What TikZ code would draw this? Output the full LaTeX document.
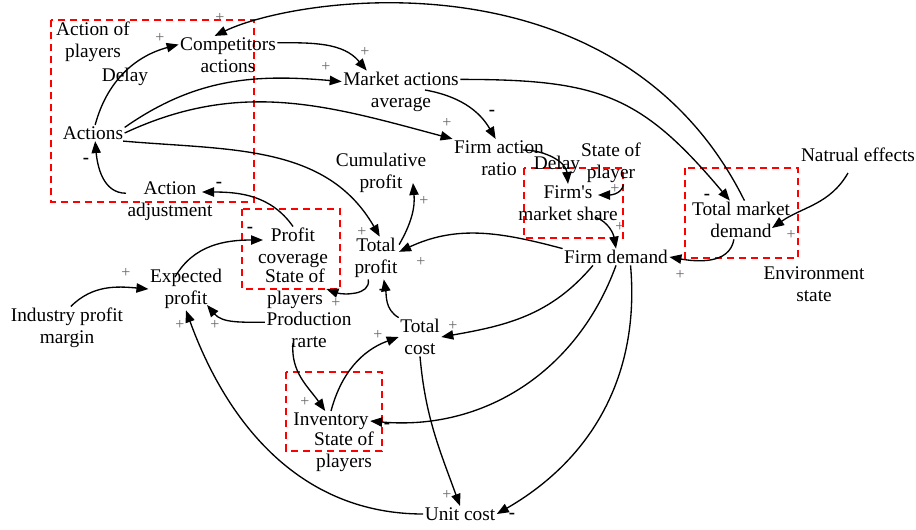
\documentclass[tikz,border=0pt]{standalone}
\usepackage{fontspec}
\setmainfont{Liberation Serif}
\usetikzlibrary{arrows.meta}
\newcommand\cldfont{\fontsize{14.5}{16.5}\selectfont}

\begin{document}
\begin{tikzpicture}[x=0.75pt,y=0.75pt,var/.style={align=center,inner sep=1pt,font=\cldfont},lnk/.style={-{Triangle[length=9pt,width=7pt]},line width=1pt},grp/.style={draw=red,line width=1.5pt,dash pattern=on 5.5pt off 3.5pt},plussign/.style={inner sep=0pt,text=black!60,font=\fontsize{12}{12}\selectfont},minussign/.style={inner sep=0pt,font=\fontsize{14}{14}\selectfont\bfseries}]
\useasboundingbox (0,0) rectangle (916,-529);
% player groups
\draw[grp] (51,-20) rectangle (254,-202);
\draw[grp] (242,-209) rectangle (340,-289);
\draw[grp] (524,-168) rectangle (623,-238);
\draw[grp] (685,-168) rectangle (798,-258);
\draw[grp] (286,-372) rectangle (382,-451);
% variables
\node[var] (aop) at (93,-42) {Action of\\players};
\node[var] (comp) at (228,-55) {Competitors\\actions};
\node[var] (dly1) at (125,-77) {Delay};
\node[var] (act) at (93,-133) {Actions};
\node[var] (aadj) at (170,-201) {Action\\adjustment};
\node[var] (maa) at (401,-92) {Market actions\\average};
\node[var] (far) at (499,-158) {Firm action\\ratio};
\node[var] (cum) at (381,-173) {Cumulative\\profit};
\node[var] (dly2) at (557,-165) {Delay};
\node[var] (sop) at (611,-163) {State of\\player};
\node[var] (fms) at (568,-203) {Firm\textquotesingle s\\market share};
\node[var] (tmd) at (741,-220) {Total market\\demand};
\node[var] (nat) at (858,-155) {Natrual effects};
\node[var] (env) at (814,-284) {Environment\\state};
\node[var] (fd) at (616,-257) {Firm demand};
\node[var] (pcov) at (293,-248) {Profit\\coverage};
\node[var] (sop2) at (295,-289) {State of\\players};
\node[var] (prod) at (309,-330) {Production\\rarte};
\node[var] (tp) at (376,-258) {Total\\profit};
\node[var] (ep) at (186,-289) {Expected\\profit};
\node[var] (ipm) at (67,-328) {Industry profit\\margin};
\node[var] (tc) at (420,-337) {Total\\cost};
\node[var] (inv) at (331,-421) {Inventory};
\node[var] (sop3) at (344,-452) {State of\\players};
\node[var] (uc) at (460,-514) {Unit cost};
% links
\draw[lnk] (act.75) to[out=75,in=195] (comp.168);
\draw[lnk] (tmd.80) .. controls (620,50) and (300,5) .. (comp.125);
\draw[lnk] (comp.14) to[out=0,in=130] (maa.148);
\draw[lnk] (act.10) to[out=35,in=175] (maa.170);
\draw[lnk] (act.east) to[out=25,in=165] (far.north west);
\draw[lnk] (act.-15) to[out=-5,in=120] (tp.80);
\draw[lnk] ([shift={(24,2)}]maa.center) to[out=-10,in=120] (far.100);
\draw[lnk] (maa.12) to[out=0,in=130,looseness=1.2] (tmd.120);
\draw[lnk] ([shift={(24,8)}]far.center) to[out=0,in=95] (fms.north);
\draw[lnk] (sop.-60) to[out=-100,in=0] ([shift={(30,8)}]fms.center);
\draw[lnk] ([shift={(27,-14)}]fms.center) to[out=-20,in=100] (fd.north);
\draw[lnk] (tmd.-110) to[out=-100,in=-10] (fd.east);
\draw[lnk] ([shift={(-10,-18)}]nat.center) to[out=-120,in=35] ([shift={(31,-8)}]tmd.center);
\draw[lnk] (fd.north west) to[out=165,in=25] (tp.15);
\draw[lnk] (aadj.170) to[out=180,in=-85] (act.-75);
\draw[lnk] (pcov.north) to[out=125,in=0] ([shift={(32,9)}]aadj.center);
\draw[lnk] ([shift={(-11,12)}]ep.center) to[out=60,in=180] ([shift={(-30,8)}]pcov.center);
\draw[lnk] (ipm.80) to[out=45,in=175] (ep.west);
\draw[lnk] (prod.170) to[out=180,in=-50] ([shift={(21,-16)}]ep.center);
\draw[lnk] (tp.30) to[out=60,in=-85] ([shift={(32,-10)}]cum.center);
\draw[lnk] (tp.-110) to[out=-80,in=-20] (sop2.east);
\draw[lnk] (tc.north west) to[out=150,in=-80] (tp.-70);
\draw[lnk] (fd.-160) to[out=-130,in=10] (tc.east);
\draw[lnk] (inv.north) to[out=75,in=200] (tc.west);
\draw[lnk] ([shift={(-16,-13)}]prod.center) to[out=-95,in=125] (inv.120);
\draw[lnk] (fd.south) to[out=-110,in=-5] (inv.east);
\draw[lnk] (tc.south) to[out=-85,in=110] (uc.north);
\draw[lnk] (fd.-30) to[out=-85,in=30] (uc.east);
\draw[lnk] (uc.west) to[out=180,in=-70] (ep.south);
% polarities
\foreach [count=\i] \px/\py in {160/-38,220/-18,365/-52,326/-67,447/-123,424/-201,362/-232,421/-262,615/-189,620/-227,680/-275,791/-235,126/-273,180/-325,215/-325,336/-303,378/-335,453/-326,305/-402,447/-495}
  \node[plussign] (plus\i) at (\px,\py) {+};
\foreach [count=\i] \px/\py in {86/-161,219/-185,250/-230,492/-113,707/-197,382/-292,387/-426,512/-516}
  \node[minussign] (minus\i) at (\px,\py) {-};
\end{tikzpicture}
\end{document}
